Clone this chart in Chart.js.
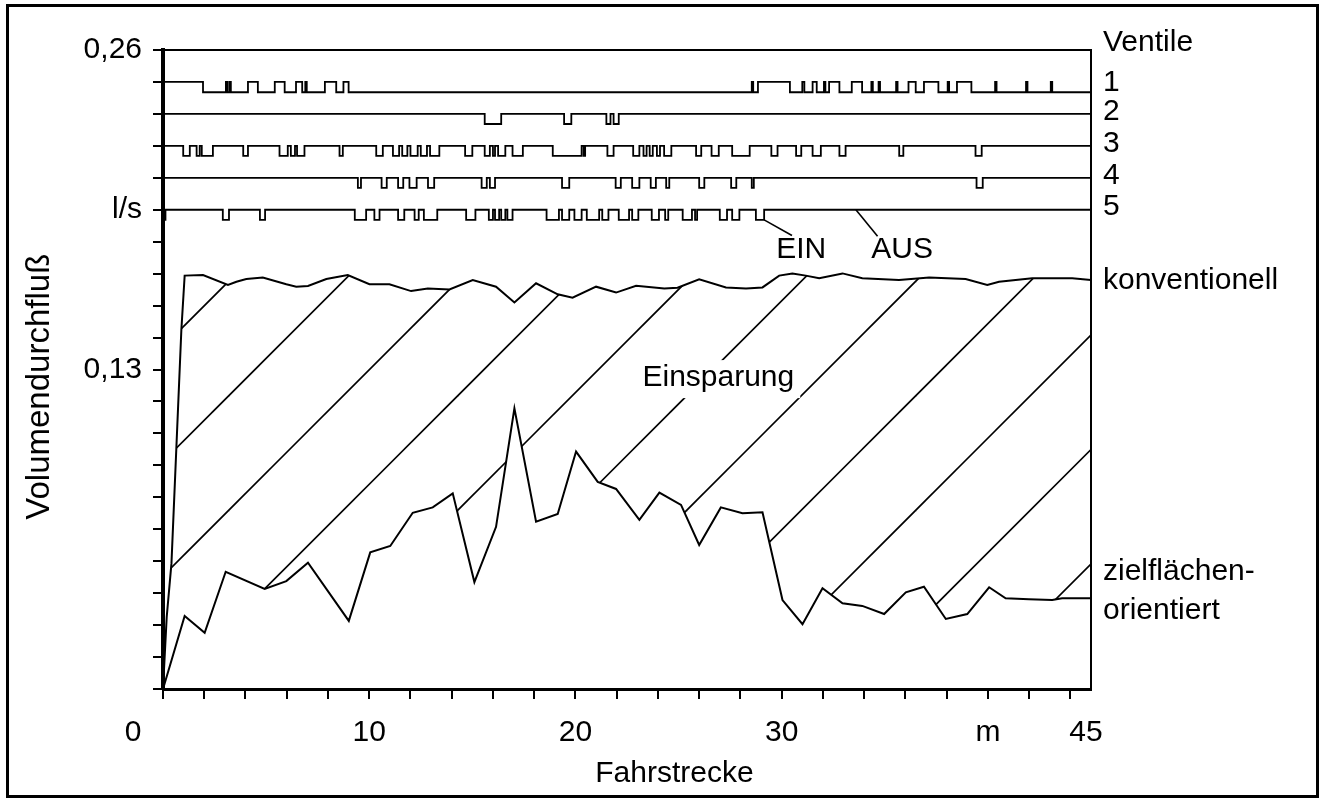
<!DOCTYPE html>
<html>
<head>
<meta charset="utf-8">
<script src="https://cdn.jsdelivr.net/npm/chart.js@4"></script>
<style>
  html, body { margin: 0; padding: 0; background: #fff; }
</style>
</head>
<body>
<canvas id="flowChart" width="1324" height="811"></canvas>
<script>
const FONT_FAMILY = "'Liberation Sans', Arial, sans-serif";
const FONT_SIZE = 30;

// Fahrstrecke (m) / Volumendurchfluss (l/s)
const konvX = [0, 0.18, 0.41, 0.65, 0.89, 1.05, 1.94, 3.15, 3.56, 4.04, 4.84, 5.98, 6.46, 7.03, 7.92, 8.96, 10.01, 10.98, 12.03, 12.84, 13.89, 15.02, 16.15, 17.04, 18.09, 19.14, 19.86, 21.0, 21.97, 22.94, 24.31, 24.95, 26.0, 27.3, 28.27, 29.07, 29.88, 30.52, 31.17, 31.82, 32.95, 33.91, 35.69, 37.15, 38.92, 39.97, 40.54, 42.15, 44.09, 45];
const konvY = [0, 0.0293, 0.0511, 0.0986, 0.1461, 0.1682, 0.1684, 0.1644, 0.1657, 0.1668, 0.1674, 0.1647, 0.1637, 0.1640, 0.1668, 0.1684, 0.1647, 0.1647, 0.1619, 0.1630, 0.1626, 0.1664, 0.1637, 0.1573, 0.1651, 0.1606, 0.1592, 0.1637, 0.1613, 0.1641, 0.1630, 0.1633, 0.1667, 0.1634, 0.1630, 0.1634, 0.1682, 0.1691, 0.1682, 0.1671, 0.1691, 0.1671, 0.1664, 0.1674, 0.1668, 0.1644, 0.1657, 0.1671, 0.1671, 0.1664];

const zielX = [0, 1.05, 2.02, 3.04, 4.93, 5.98, 7.03, 9.01, 10.05, 11.02, 12.11, 13.08, 14.05, 15.1, 16.15, 17.04, 18.09, 19.14, 20.03, 21.08, 21.97, 23.1, 24.07, 25.12, 26.0, 27.05, 28.1, 29.07, 30.04, 31.01, 31.98, 32.95, 33.91, 34.97, 36.02, 36.9, 37.96, 39.0, 40.06, 40.86, 41.99, 43.12, 43.6, 45];
const zielY = [0, 0.0297, 0.0229, 0.0477, 0.0407, 0.0439, 0.0514, 0.0277, 0.0556, 0.0582, 0.0717, 0.0739, 0.0796, 0.0435, 0.0660, 0.1142, 0.0681, 0.0712, 0.0966, 0.0843, 0.0814, 0.0688, 0.0799, 0.0749, 0.0586, 0.0739, 0.0715, 0.0719, 0.0362, 0.0264, 0.0410, 0.0349, 0.0338, 0.0305, 0.0393, 0.0416, 0.0285, 0.0305, 0.0414, 0.0369, 0.0365, 0.0362, 0.0369, 0.0369];

// valve traces: resting level, switched level, switching intervals (m)
const valveRest = [0.2428, 0.234, 0.221, 0.208, 0.195];
const valveSwitched = [0.247, 0.2299, 0.2169, 0.2039, 0.1909];
const valve1 = [[0, 1.94], [3.05, 3.12], [3.22, 3.29], [4.12, 4.6], [5.42, 5.9], [6.45, 6.75], [6.9, 6.97], [7.85, 8.4], [8.75, 9.0],
  [28.55, 28.62], [28.85, 30.4], [31.0, 31.1], [31.5, 31.7], [32.05, 32.12], [32.3, 32.8], [33.4, 33.9], [34.35, 34.42], [34.7, 34.77],
  [35.55, 35.62], [36.15, 36.5], [36.9, 37.6], [38.05, 38.12], [38.5, 39.2], [40.35, 40.42], [41.85, 41.92], [43.05, 43.12]];
const valve2 = [[15.6, 16.4], [19.45, 19.8], [21.5, 21.7], [21.85, 22.1]];
const valve3 = [[0.98, 1.3], [1.63, 1.78], [1.88, 2.42], [3.89, 4.12], [5.65, 6.05], [6.2, 6.4], [6.5, 6.86], [8.56, 8.72], [10.34, 10.66],
  [11.15, 11.45], [11.6, 11.85], [12.0, 12.35], [12.5, 12.8], [12.95, 13.4], [14.65, 15.0], [15.6, 15.85], [16.0, 16.1], [16.25, 16.6],
  [16.95, 17.45], [18.9, 20.3], [20.4, 20.47], [21.55, 21.85], [22.8, 23.1], [23.3, 23.45], [23.6, 23.75], [23.95, 24.1], [24.3, 24.65],
  [25.85, 26.1], [26.6, 26.95], [27.6, 28.45], [29.5, 29.8], [30.7, 30.95], [31.5, 31.9], [32.8, 33.1], [35.7, 35.9], [39.4, 39.7]];
const valve4 = [[9.45, 9.6], [10.6, 10.85], [11.4, 11.65], [11.95, 12.3], [12.85, 13.15], [15.45, 15.7], [15.85, 16.1], [19.35, 19.7],
  [21.95, 22.2], [22.75, 23.1], [23.65, 23.9], [24.4, 24.55], [26.0, 26.25], [27.55, 27.8], [28.55, 28.65], [39.45, 39.75]];
const valve5 = [[0, 0.12], [2.9, 3.2], [4.7, 4.95], [9.3, 9.85], [10.25, 10.5], [11.4, 11.7], [12.2, 12.4], [12.65, 13.3], [14.7, 15.15],
  [15.8, 16.0], [16.1, 16.3], [16.4, 16.6], [16.7, 16.95], [18.6, 19.2], [19.35, 19.7], [19.95, 20.3], [20.55, 21.15], [21.3, 21.6],
  [22.1, 22.6], [22.75, 23.05], [23.7, 24.05], [24.35, 24.5], [25.2, 25.65], [25.8, 25.9], [27.0, 27.35], [27.6, 27.95], [28.75, 29.15]];
const valvePulses = [valve1, valve2, valve3, valve4, valve5];

const xTicks = [0, 2, 4, 6, 8, 10, 12, 14, 16, 18, 20, 22, 24, 26, 28, 30, 32, 34, 36, 38, 40, 42, 44];
const xTickLabels = ['', '', '', '', '', '10', '', '', '', '', '20', '', '', '', '', '30', '', '', '', '', 'm', '', ''];
const yTicks = [0, 0.013, 0.026, 0.039, 0.052, 0.065, 0.078, 0.091, 0.104, 0.117, 0.13, 0.143, 0.156, 0.169, 0.182, 0.195, 0.208, 0.221, 0.234, 0.247, 0.26];
const yTickLabels = ['', '', '', '', '', '', '', '', '', '', '0,13', '', '', '', '', 'l/s', '', '', '', '', '0,26'];

// text beside the plot, anchored at a value on the y scale
const sideLabels = [['Ventile', 0.2628], ['1', 0.2466], ['2', 0.2348], ['3', 0.2218], ['4', 0.2087], ['5', 0.1961],
  ['konventionell', 0.1660], ['zielflächen-', 0.0476], ['orientiert', 0.0317]];
const einLeader = [[29.15, 0.1909], [30.5, 0.1845]];
const ausLeader = [[33.6, 0.195], [34.65, 0.1842]];

function stepTrace(rest, switched, pulses) {
  const pts = [{ x: 0, y: rest }];
  pulses.forEach(([a, b]) => {
    pts.push({ x: a, y: rest }, { x: a, y: switched }, { x: b, y: switched }, { x: b, y: rest });
  });
  pts.push({ x: 45, y: rest });
  return pts;
}

function makeHatch() {
  const size = 229;
  const tile = document.createElement('canvas');
  tile.width = size;
  tile.height = size;
  const c = tile.getContext('2d');
  c.strokeStyle = '#000';
  c.lineWidth = 1.6;
  [52, 166.5, 281, 395.5].forEach(k => {
    c.beginPath();
    c.moveTo(-20, k + 20);
    c.lineTo(k + 20, -20);
    c.stroke();
  });
  return c.createPattern(tile, 'repeat');
}

const font = { family: FONT_FAMILY, size: FONT_SIZE };

const decorPlugin = {
  id: 'figureDecor',
  afterDatasetsDraw(chart) {
    const { ctx, chartArea, scales: { x, y } } = chart;
    ctx.save();
    ctx.font = `${FONT_SIZE}px ${FONT_FAMILY}`;
    ctx.textAlign = 'center';
    ctx.textBaseline = 'middle';

    // Einsparung on a white patch
    const ex = x.getPixelForValue(26.93), ey = y.getPixelForValue(0.1265);
    const w = ctx.measureText('Einsparung').width;
    ctx.fillStyle = '#fff';
    ctx.fillRect(ex - w / 2 - 6, ey - 18, w + 12, 38);
    ctx.fillStyle = '#000';
    ctx.fillText('Einsparung', ex, ey);

    // EIN / AUS leaders
    ctx.strokeStyle = '#000';
    ctx.lineWidth = 1.6;
    [einLeader, ausLeader].forEach(seg => {
      ctx.beginPath();
      ctx.moveTo(x.getPixelForValue(seg[0][0]), y.getPixelForValue(seg[0][1]));
      ctx.lineTo(x.getPixelForValue(seg[1][0]), y.getPixelForValue(seg[1][1]));
      ctx.stroke();
    });
    ctx.fillText('EIN', x.getPixelForValue(30.95), y.getPixelForValue(0.1786));
    ctx.fillText('AUS', x.getPixelForValue(35.84), y.getPixelForValue(0.1786));

    // top and right edge of the plot
    ctx.lineWidth = 2;
    ctx.beginPath();
    ctx.moveTo(chartArea.left, chartArea.top);
    ctx.lineTo(chartArea.right, chartArea.top);
    ctx.lineTo(chartArea.right, chartArea.bottom);
    ctx.stroke();
    ctx.restore();
  },
  afterDraw(chart) {
    const { ctx, chartArea, scales: { x, y } } = chart;
    ctx.save();
    ctx.fillStyle = '#000';
    ctx.font = `${FONT_SIZE}px ${FONT_FAMILY}`;
    ctx.textBaseline = 'middle';

    ctx.textAlign = 'left';
    sideLabels.forEach(([text, v]) => ctx.fillText(text, chartArea.right + 12, y.getPixelForValue(v)));

    ctx.textAlign = 'center';
    const labelY = chartArea.bottom + 44;
    ctx.fillText('0', x.getPixelForValue(0) - 30, labelY);
    ctx.fillText('45', x.getPixelForValue(45) - 5, labelY);
    ctx.fillText('Fahrstrecke', x.getPixelForValue(24.8), chartArea.bottom + 85);

    ctx.font = `33px ${FONT_FAMILY}`;
    ctx.translate(40, y.getPixelForValue(0.123));
    ctx.rotate(-Math.PI / 2);
    ctx.fillText('Volumendurchfluß', 0, 0);
    ctx.restore();

    // outer frame
    ctx.save();
    ctx.strokeStyle = '#000';
    ctx.lineWidth = 3;
    ctx.strokeRect(7.5, 5.5, 1310, 791);
    ctx.restore();
  }
};

const lineStyle = { borderColor: '#000', borderWidth: 2, pointRadius: 0, tension: 0, fill: false };

const datasets = [
  { ...lineStyle, label: 'konventionell', data: konvX.map((v, i) => ({ x: v, y: konvY[i] })), fill: '+1', backgroundColor: makeHatch() },
  { ...lineStyle, label: 'zielflächenorientiert', data: zielX.map((v, i) => ({ x: v, y: zielY[i] })) }
];
valvePulses.forEach((pulses, i) => {
  datasets.push({ ...lineStyle, label: `Ventil ${i + 1}`, borderWidth: 1.8, data: stepTrace(valveRest[i], valveSwitched[i], pulses) });
});

new Chart(document.getElementById('flowChart'), {
  type: 'line',
  data: { datasets },
  options: {
    responsive: false,
    animation: false,
    events: [],
    layout: { padding: { left: 63, top: 50, right: 233, bottom: 62 } },
    plugins: { legend: { display: false }, tooltip: { enabled: false } },
    scales: {
      x: {
        type: 'linear',
        min: 0,
        max: 45,
        afterBuildTicks: scale => { scale.ticks = xTicks.map(v => ({ value: v })); },
        afterFit: scale => { scale.height = 60; },
        border: { display: true, color: '#000', width: 3 },
        grid: { drawOnChartArea: false, drawTicks: true, tickLength: 10, color: '#000', lineWidth: 2 },
        ticks: {
          autoSkip: false,
          maxRotation: 0,
          padding: 16,
          color: '#000',
          font,
          callback: (value, index) => xTickLabels[index]
        }
      },
      y: {
        type: 'linear',
        min: 0,
        max: 0.26,
        afterBuildTicks: scale => { scale.ticks = yTicks.map(v => ({ value: v })); },
        afterFit: scale => { scale.width = 100; },
        border: { display: true, color: '#000', width: 4 },
        grid: { drawOnChartArea: false, drawTicks: true, tickLength: 10, color: '#000', lineWidth: 2 },
        ticks: {
          autoSkip: false,
          padding: 11,
          color: '#000',
          font,
          callback: (value, index) => yTickLabels[index]
        }
      }
    }
  },
  plugins: [decorPlugin]
});
</script>
</body>
</html>
